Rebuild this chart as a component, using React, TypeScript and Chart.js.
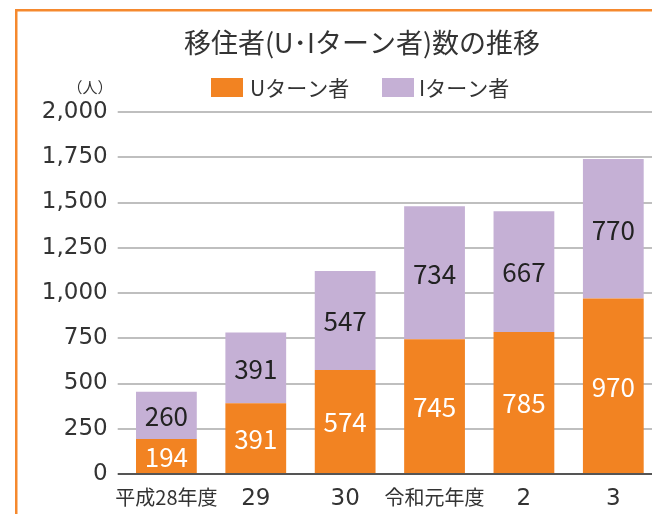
import React, { useEffect, useRef } from "react";
import { Chart, registerables } from "chart.js";

Chart.register(...registerables);

const categories = ["平成28年度", "29", "30", "令和元年度", "2", "3"];
const uTurn = [194, 391, 574, 745, 785, 970];
const iTurn = [260, 391, 547, 734, 667, 770];
const yTicks = [0, 250, 500, 750, 1000, 1250, 1500, 1750, 2000];

const titleText = "移住者(U･Iターン者)数の推移";
const unitText = "（人）";
const seriesNames = ["Uターン者", "Iターン者"];

const ORANGE = "#F28322";
const PURPLE = "#C5B0D5";
const FRAME = "#F5892E";
const TEXT = "#333333";
const FONT = "'Noto Sans CJK JP', 'Noto Sans', sans-serif";
const NUMFONT = "'DejaVu Sans', 'Noto Sans CJK JP', sans-serif";

const decorPlugin = {
  id: "decor",
  beforeDraw(chart: any) {
    const ctx = chart.ctx;
    ctx.save();
    ctx.fillStyle = "#ffffff";
    ctx.fillRect(0, 0, chart.width, chart.height);
    ctx.fillStyle = FRAME;
    ctx.fillRect(15, 9, chart.width, 2.5);
    ctx.fillRect(15, 9, 2.5, chart.height);
    ctx.restore();
  },
  afterDraw(chart: any) {
    const ctx = chart.ctx;
    ctx.save();
    ctx.fillStyle = TEXT;
    ctx.font = `27px ${FONT}`;
    ctx.textAlign = "center";
    ctx.textBaseline = "middle";
    ctx.fillText(titleText, 362, 43);
    ctx.font = `15px ${FONT}`;
    ctx.fillText(unitText, 90, 87);
    const items = [
      { box: 211, text: 250, color: ORANGE, label: seriesNames[0] },
      { box: 382, text: 419, color: PURPLE, label: seriesNames[1] },
    ];
    ctx.textAlign = "left";
    ctx.font = `21px ${FONT}`;
    for (const it of items) {
      ctx.fillStyle = it.color;
      ctx.fillRect(it.box, 78, 32, 19);
      ctx.fillStyle = TEXT;
      ctx.fillText(it.label, it.text, 88);
    }
    ctx.restore();
  },
  afterDatasetsDraw(chart: any) {
    const ctx = chart.ctx;
    ctx.save();
    ctx.font = `26px ${FONT}`;
    ctx.textAlign = "center";
    ctx.textBaseline = "middle";
    chart.data.datasets.forEach((ds: any, di: number) => {
      const meta = chart.getDatasetMeta(di);
      meta.data.forEach((el: any, i: number) => {
        const p = el.getProps(["x", "y", "base"], true);
        ctx.fillStyle = di === 0 ? "#ffffff" : "#222222";
        ctx.fillText(String(ds.data[i]), p.x, (p.y + p.base) / 2 + 1);
      });
    });
    ctx.restore();
  },
};

export default function App() {
  const ref = useRef<HTMLCanvasElement | null>(null);
  useEffect(() => {
    if (!ref.current) return;
    const chart = new Chart(ref.current, {
      type: "bar",
      data: {
        labels: categories,
        datasets: [
          {
            label: seriesNames[0],
            data: uTurn,
            backgroundColor: ORANGE,
            categoryPercentage: 0.68,
            barPercentage: 1,
          },
          {
            label: seriesNames[1],
            data: iTurn,
            backgroundColor: PURPLE,
            categoryPercentage: 0.68,
            barPercentage: 1,
          },
        ],
      },
      options: {
        animation: false,
        responsive: true,
        maintainAspectRatio: false,
        layout: { padding: { top: 112, right: 12, bottom: 0, left: 0 } },
        plugins: {
          legend: { display: false },
          title: { display: false },
          tooltip: { enabled: false },
        },
        scales: {
          x: {
            stacked: true,
            grid: { display: false, drawTicks: false },
            border: { display: false },
            ticks: {
              color: TEXT,
              font: (c: any) => {
                const lab = categories[c.index] || "";
                return /^\d+$/.test(lab)
                  ? { family: NUMFONT, size: 23 }
                  : { family: FONT, size: 20 };
              },
              padding: 11,
              maxRotation: 0,
              autoSkip: false,
            },
            afterFit(scale: any) {
              scale.height = 40;
            },
          },
          y: {
            stacked: true,
            min: 0,
            max: 2000,
            afterBuildTicks(scale: any) {
              scale.ticks = yTicks.map((v) => ({ value: v }));
            },
            grid: {
              color: (c: any) => (c.tick && c.tick.value === 0 ? "#555555" : "#BFBFBF"),
              lineWidth: 2,
              tickLength: 4,
              drawTicks: true,
            },
            border: { display: false },
            ticks: {
              color: TEXT,
              font: { family: NUMFONT, size: 23 },
              padding: 10,
              callback: (v: any) => Number(v).toLocaleString("en-US"),
            },
            afterFit(scale: any) {
              scale.width = 121.7;
            },
          },
        },
      },
      plugins: [decorPlugin],
    });
    return () => chart.destroy();
  }, []);
  return (
    <div
      style={{
        position: "fixed",
        left: 0,
        top: 0,
        width: 652,
        height: 514,
        overflow: "hidden",
        background: "#fff",
      }}
    >
      <div style={{ width: 670, height: 514, position: "relative" }}>
        <canvas ref={ref} />
      </div>
    </div>
  );
}
